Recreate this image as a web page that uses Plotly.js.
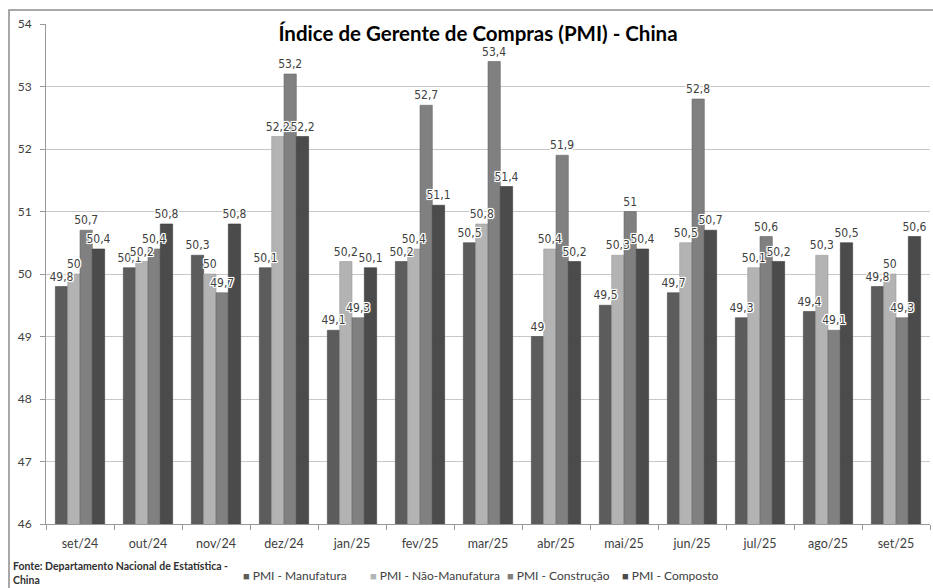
<!DOCTYPE html>
<html>
<head>
<meta charset="utf-8">
<script src="https://cdn.plot.ly/plotly-3.0.1.min.js"></script>
<style>html,body{margin:0;padding:0;background:#fff;}#chart{width:933px;height:588px;}</style>
</head>
<body>
<div id="chart"></div>
<script>
const categories = ['set/24','out/24','nov/24','dez/24','jan/25','fev/25','mar/25','abr/25','mai/25','jun/25','jul/25','ago/25','set/25'];
const manufatura = [49.8,50.1,50.3,50.1,49.1,50.2,50.5,49.0,49.5,49.7,49.3,49.4,49.8];
const naoManufatura = [50.0,50.2,50.0,52.2,50.2,50.4,50.8,50.4,50.3,50.5,50.1,50.3,50.0];
const construcao = [50.7,50.4,49.7,53.2,49.3,52.7,53.4,51.9,51.0,52.8,50.6,49.1,49.3];
const composto = [50.4,50.8,50.8,52.2,50.1,51.1,51.4,50.2,50.4,50.7,50.2,50.5,50.6];
const seriesNames = ['PMI - Manufatura','PMI - Não-Manufatura','PMI - Construção','PMI - Composto'];
const yTicks = [46,47,48,49,50,51,52,53,54];

const colors = ['#5c5c5c','#b3b3b3','#808080','#4b4b4b'];
const edge = ['#4a4a4a','#9a9a9a','#6a6a6a','#3a3a3a'];
const allSeries = [manufatura, naoManufatura, construcao, composto];
const fmt = v => String(v).replace('.', ',');

const font = 'Lato, "Open Sans", sans-serif';
const labelFont = '"Liberation Sans Narrow", "DejaVu Sans Condensed", Lato, sans-serif';
const halo = '1px 0 0 #fff, -1px 0 0 #fff, 0 1px 0 #fff, 0 -1px 0 #fff, 1px 1px 0 #fff, -1px -1px 0 #fff, 1px -1px 0 #fff, -1px 1px 0 #fff, 0 0 3px #fff';
// bars
const barTraces = allSeries.map((vals, i) => ({
  type: 'bar',
  name: seriesNames[i],
  x: categories,
  y: vals,
  showlegend: false,
  marker: {color: colors[i], line: {color: edge[i], width: 0.6}},
  hoverinfo: 'x+y'
}));
// data labels on an overlaying subplot so they are drawn above every bar
const labelTraces = allSeries.map((vals, i) => ({
  type: 'bar',
  name: seriesNames[i] + ' rótulos',
  x: categories,
  y: vals,
  xaxis: 'x2', yaxis: 'y2',
  text: vals.map(fmt),
  textposition: 'outside',
  constraintext: 'none',
  textfont: {family: labelFont, size: 12, color: '#404040', shadow: halo},
  cliponaxis: false,
  showlegend: false,
  marker: {color: 'rgba(0,0,0,0)', line: {width: 0}},
  hoverinfo: 'skip'
}));

const W = 933, H = 588, L = 46, R = 3, T = 24, B = 64;
const pw = W - L - R, ph = H - T - B;
const px = x => (x - L) / pw;
const py = y => (H - B - y) / ph;

// custom legend entries (marker square + label)
const legendX = [241, 368, 505, 620];
const legendAnn = seriesNames.map((n, i) => ({
  xref: 'paper', yref: 'paper', x: px(legendX[i]), y: py(575), xanchor: 'left', yanchor: 'middle',
  showarrow: false, align: 'left',
  text: '<span style="color:' + colors[i] + ';font-size:11px">■</span> ' + n,
  font: {family: font, size: 12, color: '#404040'}
}));

const layout = {
  width: W, height: H,
  margin: {l: L, r: R, t: T, b: B, pad: 0},
  paper_bgcolor: '#fff', plot_bgcolor: 'rgba(0,0,0,0)',
  barmode: 'group', bargap: 0.275, bargroupgap: 0,
  title: {text: '<b>Índice de Gerente de Compras (PMI) - China</b>', font: {family: font, size: 20.5, color: '#000'},
          x: px(478), xref: 'paper', xanchor: 'center', y: 1 - 34/588, yanchor: 'middle', yref: 'container'},
  xaxis: {type: 'category', tickson: 'boundaries', ticks: 'outside', ticklen: 5, tickcolor: '#999',
          showline: true, linecolor: '#999', linewidth: 1, showgrid: false, ticklabelstandoff: 8,
          tickfont: {family: font, size: 12.5, color: '#404040'}, fixedrange: true},
  yaxis: {range: [46, 54], tickvals: yTicks, ticktext: yTicks.map(String), ticks: 'outside', ticklen: 5, tickcolor: '#999',
          showline: true, linecolor: '#999', linewidth: 1, showgrid: true, gridcolor: '#c8c8c8', gridwidth: 1,
          ticklabelstandoff: 6,
          zeroline: false, tickfont: {family: font, size: 12, color: '#404040'}, fixedrange: true},
  xaxis2: {type: 'category', overlaying: 'x', matches: 'x', visible: false, showgrid: false, fixedrange: true},
  yaxis2: {overlaying: 'y', matches: 'y', range: [46, 54], visible: false, showgrid: false, zeroline: false, fixedrange: true},
  showlegend: false,
  annotations: [{
    xref: 'paper', yref: 'paper', x: px(11), y: py(573), xanchor: 'left', yanchor: 'middle', align: 'left',
    showarrow: false, text: '<b>Fonte: Departamento Nacional de Estatística -<br>China</b>',
    font: {family: font, size: 10.5, color: '#303030'}
  }].concat(legendAnn),
  shapes: [{type: 'rect', xref: 'paper', yref: 'paper', x0: px(9), x1: px(940), y0: py(10), y1: py(600),
            line: {color: '#8c8c8c', width: 1.5}, fillcolor: 'rgba(0,0,0,0)', layer: 'below'}]
};

Plotly.newPlot('chart', barTraces.concat(labelTraces), layout, {displayModeBar: false, staticPlot: true});
</script>
</body>
</html>
